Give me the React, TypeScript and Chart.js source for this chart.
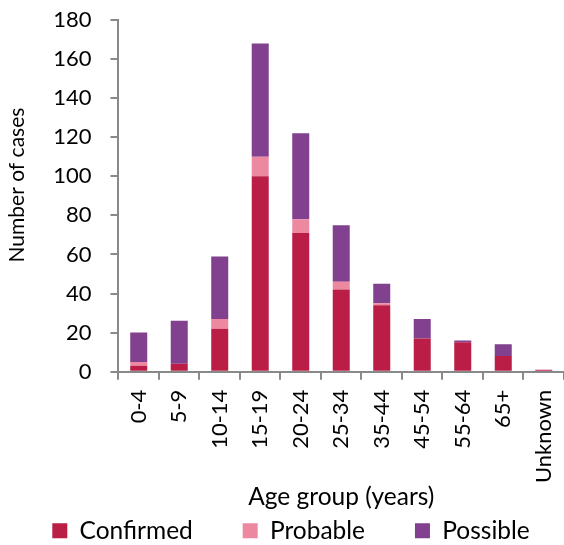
import React, { useEffect, useRef } from "react";
import { Chart, registerables } from "chart.js";

Chart.register(...registerables);

const categories = ["0-4", "5-9", "10-14", "15-19", "20-24", "25-34", "35-44", "45-54", "55-64", "65+", "Unknown"];
const confirmed = [3, 4, 22, 100, 71, 42, 34, 17, 15, 8, 1];
const probable = [2, 0, 5, 10, 7, 4, 1, 0, 0, 0, 0];
const possible = [15, 22, 32, 58, 44, 29, 10, 10, 1, 6, 0];
const yTicks = [0, 20, 40, 60, 80, 100, 120, 140, 160, 180];
const seriesNames = ["Confirmed", "Probable", "Possible"];

const FONT = "Lato";
const AXIS = "#898989";
const GAP = "       ";
const TITLE_SHIFT = "    ";

export default function App() {
  const ref = useRef<HTMLCanvasElement>(null);
  useEffect(() => {
    document.body.style.margin = "0";
    const ctx = ref.current!;
    const chart = new Chart(ctx, {
      type: "bar",
      data: {
        labels: categories,
        datasets: [
          { label: seriesNames[0], data: confirmed, backgroundColor: "#BA1E46" },
          { label: seriesNames[1], data: probable, backgroundColor: "#EC89A0" },
          { label: seriesNames[2], data: possible, backgroundColor: "#82418E" },
        ],
      },
      options: {
        animation: false,
        responsive: false,
        devicePixelRatio: 1,
        layout: { padding: { left: 8, right: -10, top: 0, bottom: -8 } },
        datasets: { bar: { categoryPercentage: 1, barPercentage: 0.42 } },
        plugins: {
          legend: {
            position: "bottom",
            labels: {
              font: { family: FONT, size: 24.5 },
              color: "#000",
              boxWidth: 15,
              boxHeight: 15,
              padding: 6,
              generateLabels: (c: any) => {
                const items = Chart.defaults.plugins.legend.labels.generateLabels(c);
                return items.map((it: any, i: number) => ({
                  ...it,
                  text: i < items.length - 1 ? it.text + GAP : it.text,
                  lineWidth: 0,
                }));
              },
            },
          },
          tooltip: { enabled: false },
        },
        scales: {
          x: {
            stacked: true,
            offset: true,
            afterFit: (s: any) => {
              s.paddingLeft = 0;
              s.paddingRight = 0;
            },
            grid: { offset: true, drawOnChartArea: false, color: AXIS, tickLength: 8, lineWidth: 2 },
            border: { color: AXIS, width: 2 },
            ticks: { font: { family: FONT, size: 22 }, color: "#000", maxRotation: 90, minRotation: 90, padding: 10 },
            title: { display: true, text: "Age group (years)", font: { family: FONT, size: 24.5 }, color: "#000", padding: { top: -11, bottom: 1 } },
          },
          y: {
            stacked: true,
            min: 0,
            max: 180,
            afterBuildTicks: (axis: any) => {
              axis.ticks = yTicks.map((v) => ({ value: v }));
            },
            afterFit: (s: any) => {
              s.paddingTop = 20;
              s.paddingBottom = 0;
            },
            grid: { drawOnChartArea: false, color: AXIS, tickLength: 8, lineWidth: 2 },
            border: { color: AXIS, width: 2 },
            ticks: { font: { family: FONT, size: 22 }, color: "#000", padding: 19 },
            title: { display: true, text: TITLE_SHIFT + "Number of cases", font: { family: FONT, size: 21 }, color: "#000", padding: { top: -3, bottom: 4 } },
          },
        },
      },
    });
    return () => chart.destroy();
  }, []);
  return (
    <div style={{ width: 564, height: 545 }}>
      <canvas ref={ref} width={564} height={545} />
    </div>
  );
}
